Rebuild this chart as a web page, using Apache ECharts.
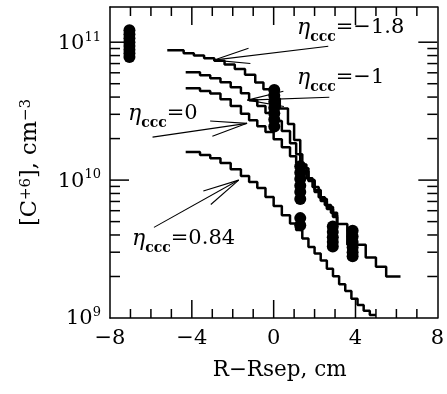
<!DOCTYPE html>
<html>
<head>
<meta charset="utf-8">
<script src="https://cdn.jsdelivr.net/npm/echarts@6/dist/echarts.min.js"></script>
<style>
  html, body { margin: 0; padding: 0; background: #fff; }
  #chart { width: 447px; height: 394px; }
</style>
</head>
<body>
<div id="chart"></div>
<script>
// model profiles, eta_ccc = -1.8, -1, 0, 0.84  (R-Rsep in cm, [C+6] in cm^-3)
const xEtaM18 = [-5.2, -4.4, -3.9, -3.4, -2.9, -2.4, -1.9, -1.4, -0.9, -0.5, -0.1, 0.3, 0.7, 1.0, 1.3, 1.6, 1.9, 2.2, 2.5, 2.8, 3.1, 3.6, 4.5, 5.0, 5.5, 6.2];
const yEtaM18 = [8.75e10, 8.3e10, 8.0e10, 7.65e10, 7.35e10, 6.9e10, 6.4e10, 5.8e10, 5.1e10, 4.55e10, 3.9e10, 3.3e10, 2.55e10, 1.95e10, 1.3e10, 1.03e10, 8.9e9, 7.5e9, 6.6e9, 5.8e9, 4.8e9, 3.4e9, 2.75e9, 2.35e9, 2.0e9, 2.0e9];

const xEtaM1 = [-4.3, -3.6, -3.1, -2.6, -2.1, -1.6, -1.2, -0.8, -0.4, 0, 0.4, 0.8, 1.1, 1.4, 1.7, 2.0, 2.3, 2.6, 2.9, 3.1];
const yEtaM1 = [6.06e10, 5.77e10, 5.48e10, 5.13e10, 4.72e10, 4.27e10, 3.8e10, 3.44e10, 3.06e10, 2.68e10, 2.27e10, 1.85e10, 1.54e10, 1.22e10, 1.0e10, 8.47e9, 7.28e9, 6.37e9, 5.57e9, 4.8e9];

const xEta0 = [-4.3, -3.6, -3.1, -2.6, -2.1, -1.6, -1.2, -0.8, -0.4, 0, 0.4, 0.8, 1.1, 1.4, 1.7, 2.0, 2.3, 2.6, 2.9, 3.1];
const yEta0 = [4.64e10, 4.42e10, 4.24e10, 3.86e10, 3.44e10, 3.03e10, 2.72e10, 2.46e10, 2.23e10, 1.98e10, 1.73e10, 1.49e10, 1.33e10, 1.16e10, 9.84e9, 8.19e9, 7.05e9, 6.17e9, 5.39e9, 4.8e9];

const xEta084 = [-4.3, -3.6, -3.1, -2.6, -2.1, -1.6, -1.2, -0.8, -0.4, 0, 0.4, 0.8, 1.1, 1.4, 1.7, 2.0, 2.3, 2.6, 2.9, 3.2, 3.5, 3.8, 4.1, 4.4, 4.7, 5.0];
const yEta084 = [1.6e10, 1.52e10, 1.44e10, 1.33e10, 1.2e10, 1.07e10, 9.68e9, 8.75e9, 7.53e9, 6.48e9, 5.57e9, 4.84e9, 4.34e9, 3.77e9, 3.27e9, 2.93e9, 2.61e9, 2.28e9, 2.01e9, 1.76e9, 1.57e9, 1.38e9, 1.24e9, 1.13e9, 1.05e9, 1.05e9];

// measured points
const xMeas = [-7.05, -7.05, -7.05, -7.05, -7.05, -7.05, -7.05, -7.05,
               0.03, 0.03, 0.03, 0.03, 0.03, 0.03, 0.03,
               1.3, 1.3, 1.3, 1.3, 1.3, 1.3, 1.3, 1.3,
               2.89, 2.89, 2.89, 2.89, 2.89,
               3.86, 3.86, 3.86, 3.86, 3.86, 3.86];
const yMeas = [1.22e11, 1.14e11, 1.07e11, 1.0e11, 9.4e10, 8.8e10, 8.3e10, 7.8e10,
               4.5e10, 4.1e10, 3.7e10, 3.35e10, 3.05e10, 2.75e10, 2.45e10,
               1.26e10, 1.13e10, 1.02e10, 9.1e9, 8.2e9, 7.3e9, 5.3e9, 4.7e9,
               4.6e9, 4.2e9, 3.85e9, 3.55e9, 3.3e9,
               4.3e9, 3.9e9, 3.55e9, 3.25e9, 3.0e9, 2.8e9];

const xMajorTicks = [-4, 0, 4];
const xMinorTicks = [-7, -6, -5, -3, -2, -1, 1, 2, 3, 5, 6, 7];
const yMinorTicks = [2e9, 3e9, 4e9, 5e9, 6e9, 7e9, 8e9, 9e9, 2e10, 3e10, 4e10, 5e10, 6e10, 7e10, 8e10, 9e10];

const FONT = "DejaVu Serif";
const X_MIN = -8, X_MAX = 8, Y_MIN = 1e9, Y_MAX = 1.8e11;

const zip = (xs, ys) => xs.map((x, i) => [x, ys[i]]);

// arrows: [tipX, tipY, tailX, tailY] in data units
const arrows = [
  [-2.94, 7.41e10, 2.67, 9.35e10],
  [-1.28, 3.8e10, 2.72, 3.99e10],
  [-1.3, 2.58e10, -5.92, 2.05e10],
  [-1.71, 1.0e10, -5.85, 4.54e9]
];

const chart = echarts.init(document.getElementById("chart"));

const sup = { fontFamily: FONT, fontSize: 13, lineHeight: 14, verticalAlign: "top", color: "#000" };
const base = { fontFamily: FONT, fontSize: 21, lineHeight: 23, verticalAlign: "bottom", color: "#000" };
const tickStyle = { stroke: "#000", lineWidth: 1.5 };

function expLabel(v) {
  const e = Math.round(Math.log10(v));
  if (Math.abs(v / Math.pow(10, e) - 1) > 1e-6) return "";
  return "{b|10}{s|" + e + "}";
}

function lineSeries(xs, ys) {
  return {
    type: "line",
    step: "end",
    showSymbol: false,
    silent: true,
    lineStyle: { color: "#000", width: 2.5 },
    data: zip(xs, ys),
  };
}

function hTick(p, len) {
  return { type: "line", shape: { x1: p[0], y1: p[1], x2: p[0] + len, y2: p[1] }, style: tickStyle };
}
function vTick(p, len) {
  return { type: "line", shape: { x1: p[0], y1: p[1], x2: p[0], y2: p[1] + len }, style: tickStyle };
}

// ticks drawn by hand so that they sit inside the frame on all four sides
function tickSeries(values, isX, len) {
  return {
    type: "custom",
    silent: true,
    clip: false,
    data: values.map((v) => (isX ? [v, Y_MIN] : [X_MIN, v])),
    renderItem: function (params, api) {
      if (isX) {
        const x = api.value(0);
        const b = api.coord([x, Y_MIN]);
        const t = api.coord([x, Y_MAX]);
        return { type: "group", children: [vTick(b, -len), vTick(t, len)] };
      }
      const v = api.value(1);
      const l = api.coord([X_MIN, v]);
      const r = api.coord([X_MAX, v]);
      return { type: "group", children: [hTick(l, len), hTick(r, -len)] };
    },
  };
}

const axisCommonX = {
  type: "value",
  min: X_MIN,
  max: X_MAX,
  interval: 4,
  splitLine: { show: false },
  axisLine: { show: true, onZero: false, lineStyle: { color: "#000", width: 1.5 } },
  axisTick: { show: false },
  minorTick: { show: false },
};

const axisCommonY = {
  type: "log",
  logBase: 10,
  min: Y_MIN,
  max: Y_MAX,
  splitLine: { show: false },
  axisLine: { show: true, onZero: false, lineStyle: { color: "#000", width: 1.5 } },
  axisTick: { show: false },
  minorTick: { show: false },
};

const option = {
  animation: false,
  backgroundColor: "#fff",
  grid: { left: 110, right: 9, top: 7, bottom: 76, containLabel: false },
  xAxis: [
    Object.assign({}, axisCommonX, {
      position: "bottom",
      name: "R\u2212Rsep, cm",
      nameLocation: "middle",
      nameGap: 41,
      nameTextStyle: { fontFamily: FONT, fontSize: 21.5, color: "#000", padding: [0, 0, 0, 12] },
      axisLabel: {
        show: true,
        margin: 10,
        fontFamily: FONT,
        fontSize: 21,
        color: "#000",
        formatter: (v) => (v < 0 ? "\u2212" + (-v) : String(v)),
      },
    }),
    Object.assign({}, axisCommonX, {
      position: "top",
      axisLabel: { show: false },
    }),
  ],
  yAxis: [
    Object.assign({}, axisCommonY, {
      position: "left",
      name: "[C{s|+6}], cm{s|\u22123}",
      nameLocation: "middle",
      nameGap: 68,
      nameTextStyle: {
        fontFamily: FONT, fontSize: 22.5, color: "#000",
        rich: { s: { fontFamily: FONT, fontSize: 15, verticalAlign: "top", lineHeight: 14 } },
      },
      axisLabel: {
        show: true,
        margin: 9,
        formatter: expLabel,
        rich: { b: base, s: sup },
      },
    }),
    Object.assign({}, axisCommonY, {
      position: "right",
      axisLabel: { show: false },
    }),
  ],
  series: [
    lineSeries(xEtaM18, yEtaM18),
    lineSeries(xEtaM1, yEtaM1),
    lineSeries(xEta0, yEta0),
    lineSeries(xEta084, yEta084),
    {
      type: "scatter",
      silent: true,
      symbol: "circle",
      symbolSize: 12,
      itemStyle: { color: "#000", opacity: 1 },
      data: zip(xMeas, yMeas),
    },
    tickSeries(xMajorTicks, true, 18),
    tickSeries(xMinorTicks, true, 9),
    tickSeries([1e10, 1e11], false, 19),
    tickSeries(yMinorTicks, false, 10),
    {
      // open arrows from labels to curves
      type: "custom",
      silent: true,
      data: arrows,
      encode: { x: 0, y: 1 },
      renderItem: function (params, api) {
        const tip = api.coord([api.value(0), api.value(1)]);
        const tail = api.coord([api.value(2), api.value(3)]);
        const dx = tail[0] - tip[0], dy = tail[1] - tip[1];
        const len = Math.sqrt(dx * dx + dy * dy);
        const ux = dx / len, uy = dy / len;
        const hl = 37, a = 12 * Math.PI / 180;
        const head = (s) => {
          const c = Math.cos(s * a), sn = Math.sin(s * a);
          return [tip[0] + hl * (ux * c - uy * sn), tip[1] + hl * (ux * sn + uy * c)];
        };
        const h1 = head(1), h2 = head(-1);
        const st = { stroke: "#000", lineWidth: 1.1, fill: null };
        return {
          type: "group",
          children: [
            { type: "line", shape: { x1: tail[0], y1: tail[1], x2: tip[0], y2: tip[1] }, style: st },
            { type: "line", shape: { x1: tip[0], y1: tip[1], x2: h1[0], y2: h1[1] }, style: st },
            { type: "line", shape: { x1: tip[0], y1: tip[1], x2: h2[0], y2: h2[1] }, style: st },
          ],
        };
      },
    },
  ],
  graphic: [
    { text: "\u22121.8", left: 297, top: 17 },
    { text: "\u22121", left: 297, top: 67 },
    { text: "0", left: 128, top: 103 },
    { text: "0.84", left: 132, top: 228 },
  ].map((g) => ({
    type: "text",
    left: g.left,
    top: g.top,
    silent: true,
    style: {
      text: "{e|\u03b7}{c|ccc}{n|=" + g.text + "}",
      rich: {
        e: { fontFamily: FONT, fontStyle: "italic", fontSize: 22, lineHeight: 24, verticalAlign: "top", color: "#000" },
        c: { fontFamily: FONT, fontSize: 14, fontWeight: "bold", lineHeight: 14, verticalAlign: "top", padding: [13, 0, 0, 0], color: "#000" },
        n: { fontFamily: FONT, fontSize: 21, lineHeight: 24, verticalAlign: "top", color: "#000" },
      },
    },
  })),
};

chart.setOption(option);
</script>
</body>
</html>
